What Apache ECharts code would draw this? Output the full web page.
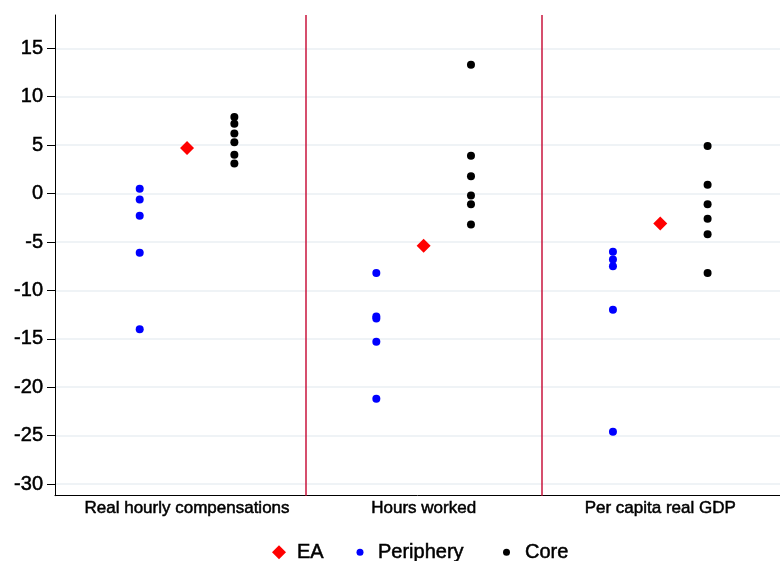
<!DOCTYPE html>
<html><head><meta charset="utf-8">
<script src="https://cdn.jsdelivr.net/npm/echarts@6/dist/echarts.min.js"></script>
<style>html,body{margin:0;padding:0;background:#fff}#c{width:780px;height:561px}</style>
</head><body><div id="c"></div><script>
const categories = ['Real hourly compensations', 'Hours worked', 'Per capita real GDP'];
const eaValues = [4.7, -5.4, -3.1];
const peripheryValues = [
  [0.5, -0.6, -2.3, -6.1, -14.0],
  [-8.2, -12.7, -12.9, -15.3, -21.2],
  [-6.0, -6.8, -7.5, -12.0, -24.6]
];
const coreValues = [
  [7.9, 7.2, 6.2, 5.3, 4.0, 3.1],
  [13.3, 3.9, 1.8, -0.2, -1.1, -3.2],
  [4.9, 0.9, -1.1, -2.6, -4.2, -8.2]
];
const yTicks = [-30, -25, -20, -15, -10, -5, 0, 5, 10, 15];

const FONT = 'Liberation Sans';
const groupWidth = 5;
const center = i => i * groupWidth + 2;
const catCenters = categories.map((c, i) => center(i));
const separators = categories.slice(1).map((c, i) => (i + 1) * groupWidth - 0.5);

const eaData = eaValues.map((v, i) => [center(i), v]);
const perData = [], coreData = [];
peripheryValues.forEach((arr, i) => arr.forEach(v => perData.push([center(i) - 1, v])));
coreValues.forEach((arr, i) => arr.forEach(v => coreData.push([center(i) + 1, v])));

const chart = echarts.init(document.getElementById('c'), null, {renderer: 'canvas'});
const heavy = {textBorderColor: '#000', textBorderWidth: 0.5};
const legendText = Object.assign({fontSize: 20, color: '#000', fontFamily: FONT}, heavy);
chart.setOption({
  animation: false,
  backgroundColor: '#fff',
  grid: {left: 55, right: 0, top: 15, bottom: 65.3, containLabel: false},
  xAxis: {
    type: 'value', min: -0.79, max: 14.53,
    axisLine: {show: true, onZero: false, lineStyle: {color: '#000', width: 1}},
    axisTick: {show: false},
    splitLine: {show: false},
    axisLabel: Object.assign({
      customValues: catCenters,
      margin: 4,
      fontSize: 17, color: '#000', fontFamily: FONT,
      formatter: v => categories[catCenters.indexOf(v)] || ''
    }, heavy)
  },
  yAxis: {
    type: 'value', min: -31.2, max: 18.44,
    axisLine: {show: true, onZero: false, lineStyle: {color: '#000', width: 1}},
    axisTick: {show: true, customValues: yTicks, length: 8, lineStyle: {color: '#000'}},
    axisLabel: Object.assign({customValues: yTicks, margin: 12, fontSize: 20, color: '#000', fontFamily: FONT}, heavy),
    splitLine: {show: true, lineStyle: {color: '#eaeff3', width: 1.5}}
  },
  legend: [
    {data: ['EA'], left: 272, top: 542, padding: 0, itemWidth: 14, itemHeight: 14,
     itemStyle: {opacity: 1}, textStyle: Object.assign({padding: [0, 0, 0, 6]}, legendText)},
    {data: ['Periphery'], left: 356.5, top: 542, padding: 0, itemWidth: 7, itemHeight: 7,
     itemStyle: {opacity: 1}, textStyle: Object.assign({padding: [0, 0, 0, 9.5]}, legendText)},
    {data: ['Core'], left: 503, top: 542, padding: 0, itemWidth: 7, itemHeight: 7,
     itemStyle: {opacity: 1}, textStyle: Object.assign({padding: [0, 0, 0, 10]}, legendText)}
  ],
  series: [
    {
      name: 'Periphery', type: 'scatter', data: perData, symbol: 'circle', symbolSize: 8,
      itemStyle: {color: '#0000ff', opacity: 1}, z: 3,
      markLine: {
        silent: true, symbol: 'none', label: {show: false},
        lineStyle: {color: '#c8143c', width: 1.5, type: 'solid', opacity: 1},
        data: separators.map(x => ({xAxis: x}))
      }
    },
    {name: 'Core', type: 'scatter', data: coreData, symbol: 'circle', symbolSize: 8,
     itemStyle: {color: '#000000', opacity: 1}, z: 3},
    {name: 'EA', type: 'scatter', data: eaData, symbol: 'diamond', symbolSize: 14,
     itemStyle: {color: '#ff0000', opacity: 1}, z: 4}
  ]
});
</script></body></html>
